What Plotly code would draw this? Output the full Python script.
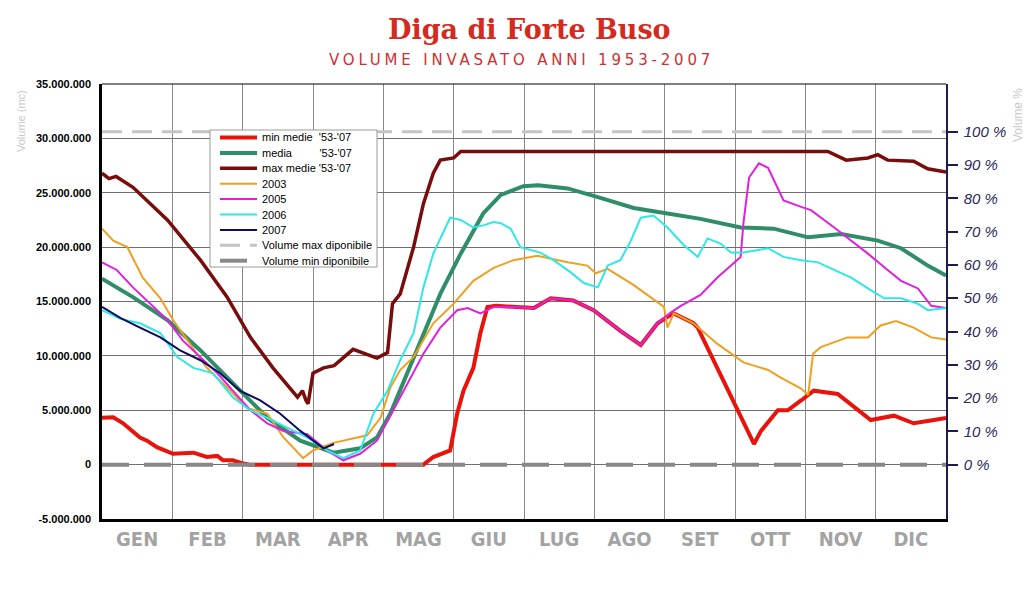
import plotly.graph_objects as go

# ---------------- data (volumes in millions of m3, x in months from 1 Jan) ----------------
MONTHS = ["GEN", "FEB", "MAR", "APR", "MAG", "GIU", "LUG", "AGO", "SET", "OTT", "NOV", "DIC"]
MAX_VOL = 30.6   # Volume max disponibile (= 100 %)
MIN_VOL = 0.0    # Volume min disponibile (= 0 %)

min_x = [0.0, 0.16, 0.3, 0.54, 0.64, 0.78, 1.01, 1.3, 1.49, 1.64, 1.72, 1.86, 2.01, 2.1, 4.57, 4.71,
         4.95, 5.05, 5.14, 5.28, 5.38, 5.48, 5.6, 5.8, 5.95, 6.14, 6.38, 6.7, 6.99, 7.23, 7.37, 7.66,
         7.9, 8.04, 8.13, 8.41, 8.47, 9.27, 9.37, 9.61, 9.75, 9.94, 10.12, 10.46, 10.93, 11.26, 11.54,
         11.83, 12.0]
min_y = [4.3, 4.35, 3.8, 2.5, 2.2, 1.6, 1.0, 1.1, 0.7, 0.8, 0.4, 0.4, 0.1, 0.0, 0.0, 0.7,
         1.3, 4.7, 6.8, 8.9, 12.1, 14.5, 14.6, 14.5, 14.5, 14.4, 15.3, 15.1, 14.2, 13.0, 12.3, 11.0,
         13.0, 13.6, 13.9, 13.0, 12.6, 1.9, 3.1, 5.0, 5.0, 5.9, 6.8, 6.5, 4.1, 4.5, 3.8,
         4.1, 4.3]

media_x = [0.0, 0.44, 0.93, 1.4, 1.86, 2.35, 2.82, 3.29, 3.67, 3.91, 4.1, 4.34, 4.57, 4.81, 5.1, 5.42,
           5.67, 5.99, 6.2, 6.62, 7.05, 7.56, 8.04, 8.51, 9.08, 9.55, 10.04, 10.51, 11.03, 11.36,
           11.74, 12.0]
media_y = [17.1, 15.4, 13.3, 10.5, 7.5, 4.3, 2.2, 1.1, 1.5, 2.5, 4.7, 8.4, 12.1, 15.7, 19.4, 23.1,
           24.8, 25.6, 25.7, 25.4, 24.6, 23.6, 23.1, 22.6, 21.8, 21.7, 20.9, 21.2, 20.6, 19.9,
           18.3, 17.4]

max_x = [0.0, 0.1, 0.2, 0.44, 0.93, 1.4, 1.78, 2.11, 2.43, 2.78, 2.85, 2.9, 2.93, 3.0, 3.15, 3.3,
         3.57, 3.91, 4.06, 4.13, 4.24, 4.43, 4.57, 4.71, 4.81, 5.0, 5.1, 10.32, 10.58, 10.89, 11.03,
         11.17, 11.54, 11.74, 12.0]
max_y = [26.8, 26.3, 26.5, 25.5, 22.5, 18.8, 15.4, 11.7, 8.9, 6.2, 6.8, 5.9, 5.6, 8.4, 8.9, 9.1,
         10.6, 9.8, 10.3, 14.8, 15.7, 20.0, 24.0, 26.8, 28.0, 28.2, 28.8, 28.8, 28.0, 28.2, 28.5,
         28.0, 27.9, 27.2, 26.9]

y2003_x = [0.0, 0.16, 0.36, 0.58, 0.83, 1.01, 1.25, 1.49, 1.78, 2.06, 2.35, 2.58, 2.86, 3.0, 3.29,
           3.57, 3.77, 3.96, 4.1, 4.24, 4.43, 4.71, 5.0, 5.28, 5.57, 5.85, 6.19, 6.62, 6.9, 7.02,
           7.19, 7.56, 7.99, 8.04, 8.13, 8.41, 8.75, 9.12, 9.47, 9.65, 9.94, 10.04, 10.11, 10.22,
           10.6, 10.89, 11.07, 11.29, 11.54, 11.79, 12.0]
y2003_y = [21.7, 20.6, 20.0, 17.2, 15.3, 13.3, 11.1, 8.9, 7.1, 5.2, 4.7, 2.5, 0.6, 1.3, 2.0,
           2.4, 2.7, 4.3, 7.1, 8.7, 9.9, 13.0, 14.8, 16.9, 18.1, 18.8, 19.2, 18.6, 18.3, 17.6,
           18.0, 16.5, 14.5, 12.6, 13.9, 13.0, 11.1, 9.4, 8.7, 8.0, 7.0, 6.4, 10.2, 10.8,
           11.7, 11.7, 12.8, 13.2, 12.6, 11.7, 11.5]

y2005_x = [0.0, 0.21, 0.44, 0.68, 0.93, 1.15, 1.4, 1.64, 1.86, 2.11, 2.35, 2.58, 2.92, 3.2, 3.43,
           3.67, 3.91, 4.14, 4.34, 4.57, 4.81, 5.05, 5.2, 5.38, 5.57, 5.85, 6.14, 6.38, 6.7, 6.99,
           7.23, 7.37, 7.66, 7.9, 8.09, 8.23, 8.51, 8.75, 9.08, 9.12, 9.2, 9.34, 9.47, 9.69, 9.94,
           10.08, 10.41, 10.65, 10.89, 11.17, 11.36, 11.6, 11.79, 12.0]
y2005_y = [18.6, 17.9, 16.3, 14.8, 13.3, 11.4, 9.9, 8.4, 6.8, 5.0, 3.8, 3.1, 2.8, 1.3, 0.4,
           1.0, 2.2, 5.0, 7.5, 10.2, 12.6, 14.2, 14.4, 13.9, 14.5, 14.5, 14.4, 15.3, 15.1, 14.2,
           13.0, 12.3, 11.0, 13.0, 14.0, 14.6, 15.6, 17.2, 19.1, 22.2, 26.4, 27.7, 27.3, 24.3, 23.7,
           23.4, 21.8, 20.6, 19.4, 17.9, 16.9, 16.2, 14.6, 14.4]

y2006_x = [0.0, 0.26, 0.54, 0.83, 1.07, 1.3, 1.58, 1.86, 2.11, 2.35, 2.63, 2.92, 3.2, 3.43, 3.67,
           3.86, 4.06, 4.24, 4.43, 4.57, 4.71, 4.85, 4.95, 5.1, 5.28, 5.42, 5.57, 5.67, 5.81, 5.95,
           6.23, 6.42, 6.66, 6.85, 7.05, 7.19, 7.37, 7.52, 7.66, 7.84, 8.04, 8.27, 8.47, 8.61, 8.8,
           8.94, 9.12, 9.47, 9.69, 9.94, 10.18, 10.41, 10.65, 10.89, 11.12, 11.36, 11.6, 11.74, 12.0]
y2006_y = [14.2, 13.4, 13.0, 12.1, 9.9, 8.9, 8.4, 6.2, 5.0, 4.3, 3.4, 2.5, 1.3, 0.6, 1.3,
           4.7, 6.8, 9.6, 12.1, 16.3, 19.4, 21.3, 22.7, 22.5, 21.8, 22.0, 22.3, 22.2, 21.7, 20.0,
           19.5, 18.8, 17.7, 16.7, 16.3, 18.3, 18.8, 20.6, 22.7, 22.9, 21.8, 20.2, 19.1, 20.8, 20.3,
           19.5, 19.5, 19.9, 19.1, 18.8, 18.6, 17.9, 17.2, 16.2, 15.3, 15.3, 14.8, 14.2, 14.4]

y2007_x = [0.0, 0.26, 0.54, 0.83, 1.11, 1.4, 1.68, 1.96, 2.25, 2.53, 2.82, 3.0, 3.15, 3.3]
y2007_y = [14.5, 13.5, 12.6, 11.7, 10.5, 9.6, 8.4, 6.8, 5.9, 4.7, 3.1, 2.2, 1.5, 1.9]

Y_TICKS = [-5, 0, 5, 10, 15, 20, 25, 30, 35]
Y_TICK_TEXT = ["-5.000.000", "0", "5.000.000", "10.000.000", "15.000.000", "20.000.000",
               "25.000.000", "30.000.000", "35.000.000"]
PCT_TICKS = [0, 10, 20, 30, 40, 50, 60, 70, 80, 90, 100]
PCT_TICK_TEXT = [f"{p} %" for p in PCT_TICKS]

NB = "\u00a0"
SERIES = [
    (min_x, min_y, "min medie" + NB * 2 + "'53-'07", "#e8140c", 4, "solid"),
    (media_x, media_y, "media" + NB * 9 + "'53-'07", "#2f8d68", 4, "solid"),
    (max_x, max_y, "max medie '53-'07", "#7a0c0c", 3.5, "solid"),
    (y2003_x, y2003_y, "2003", "#f0a020", 2, "solid"),
    (y2005_x, y2005_y, "2005", "#e020e0", 2, "solid"),
    (y2006_x, y2006_y, "2006", "#2ee8e8", 2, "solid"),
    (y2007_x, y2007_y, "2007", "#0c0c60", 2, "solid"),
    ([0, 12], [MAX_VOL, MAX_VOL], "Volume max diponibile", "#c4c4c4", 3, "20px,10px"),
    ([0, 12], [MIN_VOL, MIN_VOL], "Volume min diponibile", "#888888", 4, "27px,15px"),
]

# ---------------- figure ----------------
W, H = 1024, 601
L, R, T, B = 102, 78, 84, 82


def px(xp):
    return (xp - L) / (W - L - R)


def py(yp):
    return (H - B - yp) / (H - T - B)


fig = go.Figure()
for x, y, name, color, width, dash in SERIES:
    fig.add_trace(go.Scatter(x=x, y=y, mode="lines", name=name, showlegend=False,
                             line=dict(color=color, width=width, dash=dash)))

# invisible trace to activate the right % axis
fig.add_trace(go.Scatter(x=[0], y=[0], yaxis="y2", mode="markers",
                         marker=dict(opacity=0), showlegend=False, hoverinfo="skip"))

Y_RANGE = [-5, 35]
shapes = [dict(type="line", xref="paper", yref="paper", x0=0, x1=1, y0=1, y1=1,
               line=dict(color="black", width=1))]
annotations = []

# legend box (drawn as a key, styled from SERIES)
LEG_L, LEG_R, LEG_T, LEG_B = 210, 377, 130, 267
shapes.append(dict(type="rect", xref="paper", yref="paper", layer="above",
                   x0=px(LEG_L), x1=px(LEG_R), y0=py(LEG_B), y1=py(LEG_T),
                   fillcolor="white", line=dict(color="#9a9a9a", width=1)))
row0, drow = 137.5, 15.4
for i, (_, _, name, color, width, dash) in enumerate(SERIES):
    yy = row0 + i * drow
    shapes.append(dict(type="line", xref="paper", yref="paper", layer="above",
                       x0=px(220), x1=px(257), y0=py(yy), y1=py(yy),
                       line=dict(color=color, width=width, dash=dash)))
    annotations.append(dict(text=name, x=px(260), y=py(yy), xref="paper", yref="paper",
                            showarrow=False, xanchor="left", yanchor="middle",
                            font=dict(size=11, color="black",
                                      family="Liberation Sans, Arial, sans-serif")))

annotations += [
    dict(text="<b>Diga di Forte Buso</b>", x=px(529), y=py(29), xref="paper", yref="paper",
         showarrow=False, xanchor="center", yanchor="middle",
         font=dict(family="DejaVu Serif, serif", size=27, color="#d42a20")),
    dict(text="VOLUME INVASATO ANNI 1953-2007", x=px(521), y=py(60), xref="paper", yref="paper",
         showarrow=False, xanchor="center", yanchor="middle",
         font=dict(family="DejaVu Sans, sans-serif", size=15, color="#d03030")),
    dict(text="Volume (mc)", x=px(21), y=py(121), xref="paper", yref="paper",
         showarrow=False, textangle=-90, xanchor="center", yanchor="middle",
         font=dict(size=11, color="#c8c8c8")),
    dict(text="Volume %", x=px(1018), y=py(115), xref="paper", yref="paper",
         showarrow=False, textangle=-90, xanchor="center", yanchor="middle",
         font=dict(size=12, color="#c8c8c8")),
]

fig.update_layout(
    width=W, height=H,
    margin=dict(l=L, r=R, t=T, b=B),
    paper_bgcolor="white", plot_bgcolor="white",
    font=dict(family="Liberation Sans, Arial, sans-serif", color="black"),
    showlegend=False,
    xaxis=dict(range=[0, 12], tickvals=[i + 0.5 for i in range(12)], ticktext=MONTHS,
               showgrid=False, zeroline=False, ticks="", ticklabelstandoff=0,
               tickfont=dict(family="DejaVu Sans Condensed, Liberation Sans Narrow, DejaVu Sans, sans-serif",
                             size=20, color="#a3a3a3", weight="bold"),
               showline=True, linecolor="black", linewidth=2.5,
               minor=dict(tickvals=list(range(1, 12)), showgrid=True, gridcolor="#8a8a8a",
                          gridwidth=1, ticks="")),
    yaxis=dict(range=Y_RANGE, tickvals=Y_TICKS, ticktext=Y_TICK_TEXT,
               showgrid=True, gridcolor="#707070", gridwidth=1, zeroline=False, ticks="",
               ticklabelstandoff=6,
               tickfont=dict(size=11, weight="bold", color="black",
                             family="Liberation Sans, Arial, sans-serif"),
               showline=True, linecolor="black", linewidth=2.5),
    yaxis2=dict(overlaying="y", side="right",
                range=[Y_RANGE[0] / MAX_VOL * 100, Y_RANGE[1] / MAX_VOL * 100],
                tickvals=PCT_TICKS, ticktext=PCT_TICK_TEXT, showgrid=False, zeroline=False,
                ticks="outside", ticklen=10, tickwidth=2, tickcolor="#1c1c50",
                ticklabelstandoff=3,
                tickfont=dict(size=15, style="italic", color="#2a2a5a",
                              family="Liberation Sans, Arial, sans-serif"),
                showline=True, linecolor="#1c1c50", linewidth=1.5),
    shapes=shapes,
    annotations=annotations,
)

post = """
var gd = document.getElementById('{plot_id}');
function spaceSub(){
  gd.querySelectorAll('text').forEach(function(t){
    if (t.textContent.indexOf('VOLUME INVASATO') === 0) { t.style.letterSpacing = '3.8px'; }
  });
}
spaceSub();
"""
fig.write_html("out.html", post_script=post)
